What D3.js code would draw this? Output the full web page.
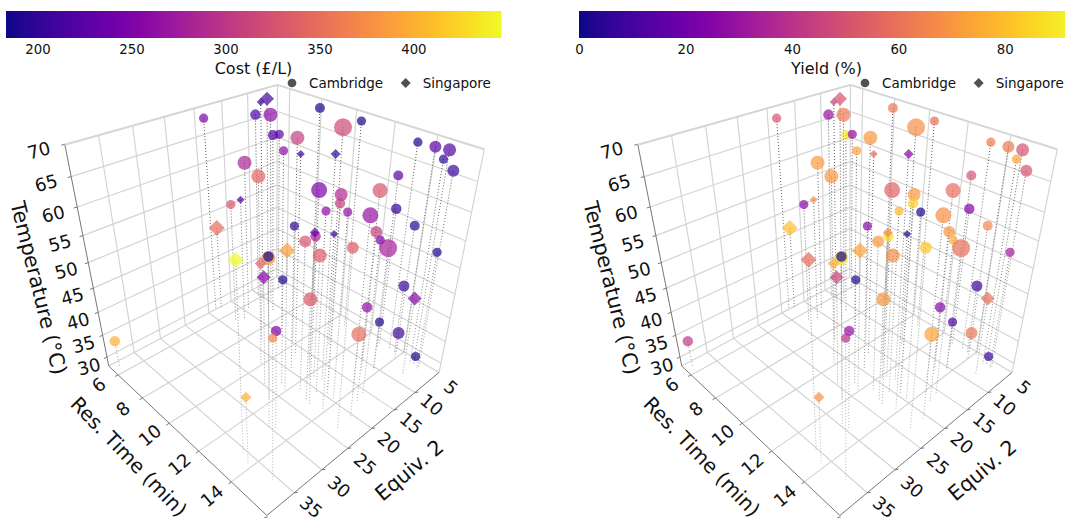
<!DOCTYPE html>
<html>
<head>
<meta charset="utf-8">
<style>
body { margin: 0; background: #fff; overflow: hidden; }
text { font-family: "DejaVu Sans"; fill: #111; }
</style>
<script src="https://cdn.jsdelivr.net/npm/d3@7"></script>
</head>
<body>
<svg width="1065" height="522"></svg>
<script>
// values
var resTime = [5.1,6.8,6.3,5.8,6.6,8.0,10.7,11.2,7.3,6.2,9.7,8.8,10.6,12.6,6.4,9.9,13.4,14.1,14.8,14.7,15.1,12.9,13,13.3,13.2,13.4,13,13.8,14.1,12.8,13.8,11.2,6.6,6.9,5.3,12.2,11.5,13.9,12.4,13.4,14.5,13.8,15,12.2,15.1,11.9,13.2,13,11.9,8.7,11.1,11.5,13,13.7,14.9,14.6,13.8,14,15,13.3,15,14.8,13.8,5.6];
var equiv = [13.2,6,5.7,5.3,4.7,-0.9,0.5,6.3,6.4,1.6,9.5,9.1,11.9,12.9,9.4,17.1,0,-0.5,0,0.5,0,1,5.2,18.1,13.8,14.7,15.6,14.8,11.7,0,0,14.8,12.9,11.8,12.5,14.3,11.9,17.4,16.9,6.9,11,5.7,18.4,13.3,0.5,18.4,30.3,25,21.6,13.3,20,17.8,17.7,0,3.2,12.7,5.6,1.2,15.7,24.7,30.6,-0.3,31.2,33.5];
var temperature = [67.7,70.7,69.6,66.8,67.4,68.4,69.2,70.4,65,62.5,68.1,64.8,67.3,70,59.9,64.7,68.5,68.4,68.9,67.5,66,62.8,62,67.5,65,64.3,62.9,63.6,62.2,56.4,54.8,57.3,53.5,54.4,46.5,56.9,55.3,61.5,57.6,56.2,58.5,53.4,61.7,53,52.3,55.9,62.7,59.9,56.5,45.2,50.5,49.6,48.9,42.8,44.5,47.8,38.7,33.9,45.5,48.1,54.7,29.3,41.7,33.9];
var cost = [247,215,199,215,262,189,189,315,215,228,307,262,199,199,283,341,189,226,220,199,204,226,328,247,289,307,262,262,265,199,196,196,328,220,347,278,228,199,328,307,247,278,333,336,189,386,447,381,189,341,254,189,331,204,254,262,189,210,347,247,368,189,399,399];
var yieldPct = [50,50,46,29,62,62,59,68,89,28,70,73,57,24,71,70,62,62,50,73,50,50,58,55,71,85,78,2,68,24,66,26,26,68,80,87,66,2,71,70,76,59,82,67,33,73,57,89,2,75,46,3,70,7,59,26,11,61,73,29,39,7,69,42];
var loading = [85,98,32,110,196,100,85,324,100,85,196,85,32,50,196,196,85,144,169,85,144,100,225,256,169,110,85,85,256,110,100,85,85,32,128,110,50,32,144,144,85,324,144,196,85,128,128,196,110,72,98,85,196,121,98,110,85,144,225,110,85,85,61,110];
var site = ["C","S","S","C","C","C","C","C","C","C","C","C","S","S","C","C","C","C","C","C","C","C","C","C","C","C","C","C","C","C","C","C","C","S","S","C","S","S","C","C","C","C","C","C","C","S","S","C","C","S","S","C","C","C","S","C","C","C","C","C","C","C","S","C"];

var resTicks = [6,8,10,12,14];
var equivTicks = [5,10,15,20,25,30,35];
var tempTicks = [30,35,40,45,50,55,60,65,70];
var costTicks = [200,250,300,350,400];
var yieldTicks = [0,20,40,60,80];

var svg = d3.select("svg");

var rtN = d3.scaleLinear().domain([5.188,15.966]).range([0,1]);
var eqN = d3.scaleLinear().domain([-1.194,34.585]).range([0,1]);
var tN = d3.scaleLinear().domain([27.818,69.868]).range([0,1]);

// perspective camera, fitted to the box corners
var azim = 46.61 * Math.PI / 180, elev = 33.469 * Math.PI / 180;
var dist = 2.331, zoom = 261.367, cx = 272.882, cy = 271.489, boxZ = 1.003;

function project(e, r, z) {
  var u = e - .5, v = r - .5, w = (z - .5) * boxZ;
  var X = -u * Math.sin(azim) + v * Math.cos(azim);
  var Y = -u * Math.sin(elev) * Math.cos(azim) - v * Math.sin(elev) * Math.sin(azim) + w * Math.cos(elev);
  var Z = u * Math.cos(elev) * Math.cos(azim) + v * Math.cos(elev) * Math.sin(azim) + w * Math.sin(elev);
  var k = dist / (dist - Z);
  return [cx + zoom * X * k, cy - zoom * Y * k];
}

var line = d3.line();

// drop lines look fainter towards the floor
var grad = svg.append("defs").append("linearGradient")
.attr("id", "drop")
.attr("gradientUnits", "userSpaceOnUse")
.attr("x1", 0).attr("y1", 150).attr("x2", 0).attr("y2", 420);
grad.append("stop").attr("offset", 0).attr("stop-color", "#555");
grad.append("stop").attr("offset", 1).attr("stop-color", "#b5b5b5");

function panel(offsetX, colorValues, colorDomain, colorTicks, colorLabel, barRange) {
  var g = svg.append("g").attr("transform", "translate(" + offsetX + ",0)");
  var color = d3.scaleSequential(d3.interpolatePlasma).domain(colorDomain);

  function seg(a, b, stroke, width) {
    g.append("path")
    .attr("d", line([project(a[0], a[1], a[2]), project(b[0], b[1], b[2])]))
    .attr("fill", "none")
    .attr("stroke", stroke)
    .attr("stroke-width", width);
  }

  // panes
  var gridColor = "#d3d3d3";
  resTicks.forEach(function(d) {
    var r = rtN(d);
    seg([0,r,0], [1,r,0], gridColor, 1.15);
    seg([0,r,0], [0,r,1], gridColor, 1.15);
  });
  equivTicks.forEach(function(d) {
    var e = eqN(d);
    if (e > 1) return;
    seg([e,0,0], [e,1,0], gridColor, 1.15);
    seg([e,0,0], [e,0,1], gridColor, 1.15);
  });
  tempTicks.forEach(function(d) {
    var t = tN(d);
    seg([1,0,t], [0,0,t], gridColor, 1.15);
    seg([0,0,t], [0,1,t], gridColor, 1.15);
  });
  seg([1,0,1], [0,0,1], gridColor, 1.15);
  seg([0,0,1], [0,1,1], gridColor, 1.15);
  seg([0,1,1], [0,1,0], gridColor, 1.15);
  seg([0,0,1], [0,0,0], gridColor, 1.15);
  seg([0,0,0], [1,0,0], gridColor, 1.15);
  seg([0,0,0], [0,1,0], gridColor, 1.15);

  // axes and tick labels
  var axisColor = "#777";
  seg([1,0,0], [1,0,1], axisColor, 1);
  seg([1,0,0], [1,1,0], axisColor, 1);
  seg([0,1,0], [1,1,0], axisColor, 1);

  function tickLabel(p, dx, dy, angle, txt) {
    var len = Math.sqrt(dx * dx + dy * dy);
    g.append("path")
    .attr("d", line([p, [p[0] + dx / len * 3.5, p[1] + dy / len * 3.5]]))
    .attr("stroke", axisColor)
    .attr("stroke-width", 1);
    g.append("text")
    .attr("transform", "translate(" + (p[0] + dx) + "," + (p[1] + dy) + ") rotate(" + angle + ")")
    .attr("text-anchor", "middle")
    .attr("dy", "0.36em")
    .attr("font-size", 18)
    .text(txt);
  }

  var tDx = d3.scaleLinear().domain([30,70]).range([-18,-26]);
  var tDy = d3.scaleLinear().domain([30,70]).range([9.5,6]);
  tempTicks.forEach(function(d) {
    tickLabel(project(1, 0, tN(d)), tDx(d), tDy(d), -15, d);
  });
  var rDy = d3.scaleLinear().domain([6,14]).range([10,14]);
  resTicks.forEach(function(d) {
    tickLabel(project(1, rtN(d), 0), -19.5, rDy(d), -40, d);
  });
  var eDx = d3.scaleLinear().domain([5,30]).range([36,45]);
  var eDy = d3.scaleLinear().domain([5,30,35]).range([-5,-6,-10.5]);
  equivTicks.forEach(function(d) {
    tickLabel(project(eqN(d), 1, 0), eDx(d), eDy(d), 40, d);
  });

  function axisTitle(x, y, angle, size, txt) {
    g.append("text")
    .attr("transform", "translate(" + x + "," + y + ") rotate(" + angle + ")")
    .attr("text-anchor", "middle")
    .attr("dy", "0.36em")
    .attr("font-size", size)
    .text(txt);
  }
  axisTitle(39, 288, 76, 20.6, "Temperature (°C)");
  axisTitle(129, 456.5, 46, 20, "Res. Time (min)");
  axisTitle(409, 470, -40, 20.6, "Equiv. 2");

  // drop lines
  resTime.forEach(function(d, i) {
    g.append("path")
    .attr("d", line([project(eqN(equiv[i]), rtN(d), tN(temperature[i])), project(eqN(equiv[i]), rtN(d), 0)]))
    .attr("fill", "none")
    .attr("stroke", "url(#drop)")
    .attr("stroke-width", 1)
    .attr("stroke-dasharray", "1,2");
  });

  // markers
  var symbol = d3.symbol();
  resTime.forEach(function(d, i) {
    var p = project(eqN(equiv[i]), rtN(d), tN(temperature[i]));
    var isCircle = site[i] == "C";
    g.append("path")
    .attr("transform", "translate(" + p[0] + "," + p[1] + ")" + (isCircle ? "" : " rotate(45)"))
    .attr("d", symbol.type(isCircle ? d3.symbolCircle : d3.symbolSquare).size(isCircle ? loading[i] * Math.PI / 4 : loading[i])())
    .attr("fill", color(colorValues[i]))
    .attr("opacity", .7);
  });

  // colour bar
  var barX = d3.scaleLinear().domain(colorDomain).range(barRange);
  var barG = svg.append("g");
  d3.range(barRange[0] + offsetX, barRange[1] + offsetX).forEach(function(px) {
    barG.append("rect")
    .attr("x", px)
    .attr("y", 11)
    .attr("width", 1.5)
    .attr("height", 27)
    .attr("fill", d3.interpolatePlasma((px - barRange[0] - offsetX) / (barRange[1] - barRange[0])));
  });
  var axisG = g.append("g")
  .attr("transform", "translate(0,38)")
  .call(d3.axisBottom(barX).tickValues(colorTicks).tickSize(0).tickPadding(6.5));
  axisG.select(".domain").remove();
  axisG.selectAll("text").attr("font-family", "DejaVu Sans").attr("font-size", 13.3).attr("fill", "#111");

  g.append("text")
  .attr("x", 253.5)
  .attr("y", 73.5)
  .attr("text-anchor", "middle")
  .attr("font-size", 16)
  .text(colorLabel);

  // legend
  g.append("path")
  .attr("transform", "translate(292,83)")
  .attr("d", d3.symbol().type(d3.symbolCircle).size(76 * Math.PI / 4)())
  .attr("fill", "#333").attr("opacity", .85);
  g.append("text").attr("x", 309).attr("y", 88).attr("font-size", 13.5).text("Cambridge");
  g.append("path")
  .attr("transform", "translate(405.7,83) rotate(45)")
  .attr("d", d3.symbol().type(d3.symbolSquare).size(50)())
  .attr("fill", "#333").attr("opacity", .85);
  g.append("text").attr("x", 422.7).attr("y", 88).attr("font-size", 13.5).text("Singapore");
}

panel(0, cost, [183.3,446.6], costTicks, "Cost (£/L)", [6,501]);
panel(573, yieldPct, [0,93], yieldTicks, "Yield (%)", [6,501]);
</script>
</body>
</html>
